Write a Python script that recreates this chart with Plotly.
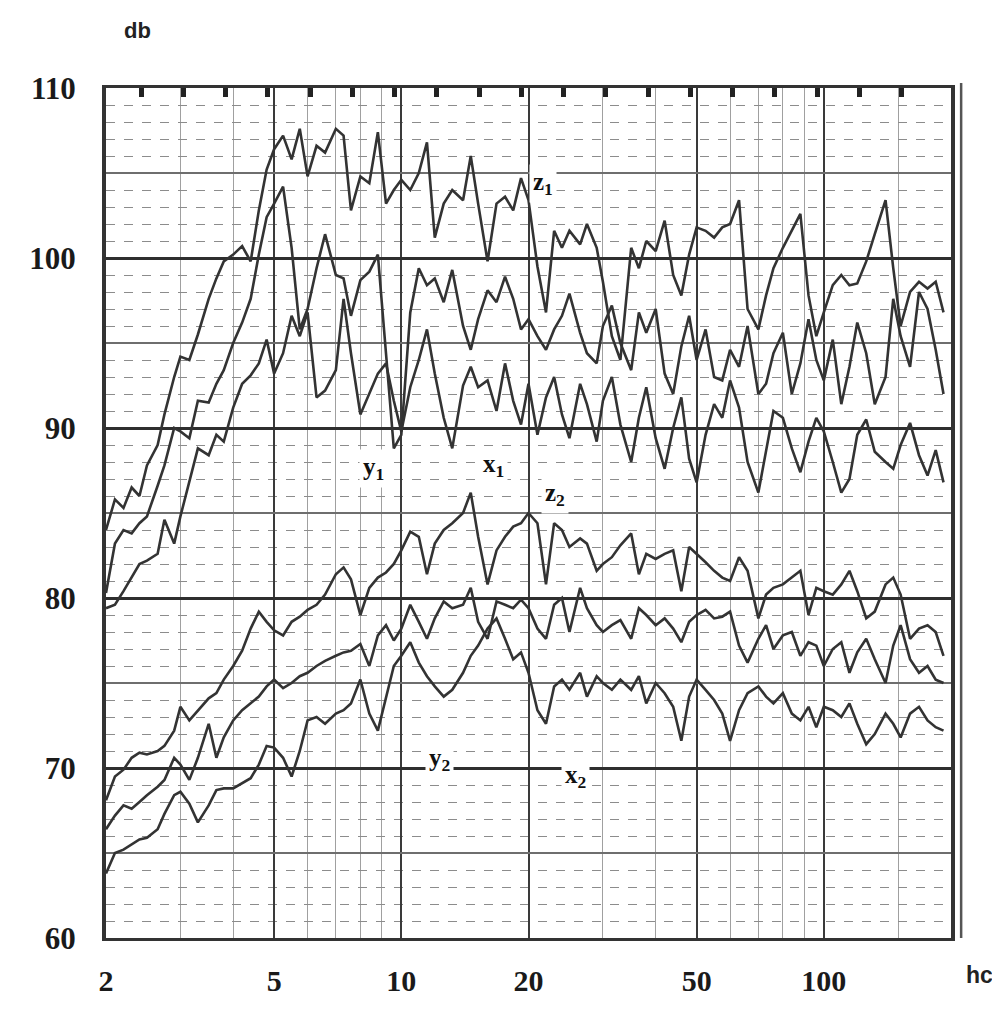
import math

import plotly.graph_objects as go

# frequency grid (hc), read positions along the log axis
FREQ = [
    2.0, 2.1, 2.2, 2.3, 2.4, 2.5, 2.65, 2.75, 2.9, 3.0,
    3.15, 3.3, 3.5, 3.65, 3.8, 4.0, 4.2, 4.4, 4.6, 4.8,
    5.0, 5.25, 5.5, 5.75, 6.0, 6.3, 6.6, 7.0, 7.3, 7.6,
    8.0, 8.4, 8.8, 9.2, 9.6, 10, 10.5, 11, 11.5, 12,
    12.6, 13.2, 14, 14.6, 15.2, 16, 16.8, 17.6, 18.4, 19.2,
    20, 21, 22, 23, 24, 25, 26.5, 27.5, 29, 30,
    31.5, 33, 35, 36.5, 38, 40, 42, 44, 46, 48,
    50, 52.5, 55, 57.5, 60, 63, 66, 70, 73, 76,
    80, 84, 88, 92, 96, 100, 105, 110, 115, 120,
    126, 132, 140, 146, 152, 160, 168, 176, 184, 192,
]

Z1 = [
    84.0, 85.8, 85.3, 86.5, 86.0, 87.8, 89.0, 90.8, 93.0, 94.2,
    94.0, 95.5, 97.6, 98.8, 99.8, 100.2, 100.7, 99.8, 102.8, 105.2,
    106.4, 107.2, 105.8, 107.6, 104.8, 106.6, 106.2, 107.6, 107.2, 102.8,
    104.8, 104.4, 107.4, 103.2, 104.0, 104.6, 104.0, 105.0, 106.8, 101.2,
    103.2, 104.0, 103.4, 106.0, 103.2, 99.8, 103.2, 103.6, 102.8, 104.7,
    103.4, 99.5, 96.8, 101.6, 100.6, 101.6, 100.8, 102.0, 100.6, 98.6,
    95.4, 94.0, 100.6, 99.4, 101.0, 100.4, 102.2, 99.0, 97.8, 100.2,
    101.8, 101.6, 101.2, 101.8, 102.0, 103.4, 97.0, 95.8, 97.8, 99.4,
    100.6, 101.6, 102.6, 97.8, 95.4, 96.8, 98.4, 99.0, 98.4, 98.5,
    99.8, 101.4, 103.4, 99.4, 96.0, 98.0, 98.6, 98.2, 98.6, 96.8,
]

Y1 = [
    80.3, 83.2, 84.0, 83.8, 84.4, 84.8, 86.6, 87.8, 90.0, 89.8,
    89.4, 91.6, 91.5, 92.6, 93.4, 95.0, 96.2, 97.6, 100.2, 102.4,
    103.2, 104.2, 100.6, 95.8, 97.0, 99.4, 101.4, 99.0, 98.8, 96.6,
    98.7, 99.2, 100.2, 94.6, 88.8, 89.6, 96.8, 99.4, 98.4, 98.8,
    97.4, 99.3, 96.0, 94.6, 96.4, 98.1, 97.4, 98.9, 97.6, 95.8,
    96.4, 95.4, 94.6, 95.8, 96.6, 97.9, 95.6, 94.4, 93.8, 96.0,
    97.2, 95.0, 93.4, 96.8, 95.6, 97.0, 93.2, 92.0, 94.8, 96.6,
    94.0, 95.8, 93.0, 92.8, 94.6, 93.6, 96.0, 92.0, 92.6, 94.4,
    95.6, 92.0, 93.8, 96.4, 94.0, 92.8, 95.2, 91.4, 93.6, 96.2,
    94.4, 91.4, 93.0, 97.6, 95.4, 93.6, 98.0, 97.0, 94.6, 92.0,
]

X1 = [
    79.4, 79.6, 80.4, 81.2, 82.0, 82.2, 82.6, 84.6, 83.2, 84.8,
    86.9, 88.8, 88.4, 89.6, 89.2, 91.2, 92.6, 93.1, 93.8, 95.2,
    93.2, 94.4, 96.6, 95.4, 96.8, 91.8, 92.2, 93.4, 97.6, 94.4,
    90.8, 92.0, 93.2, 93.8, 91.6, 89.8, 92.4, 94.0, 95.8, 93.2,
    90.6, 88.8, 92.5, 93.6, 92.4, 92.8, 91.0, 93.8, 91.6, 90.2,
    92.6, 89.6, 91.8, 93.0, 90.8, 89.4, 92.6, 91.4, 89.2, 91.6,
    93.0, 90.2, 88.0, 90.6, 92.4, 89.4, 87.6, 90.0, 91.8, 88.2,
    86.8, 89.6, 91.4, 90.6, 92.8, 91.2, 88.0, 86.2, 88.6, 91.0,
    90.6, 88.8, 87.4, 89.2, 90.6, 89.8, 88.0, 86.2, 87.0, 89.6,
    90.5, 88.6, 88.0, 87.6, 89.0, 90.3, 88.4, 87.2, 88.7, 86.8,
]

Z2 = [
    68.1, 69.5, 69.9, 70.6, 70.9, 70.8, 71.0, 71.3, 72.2, 73.6,
    72.8, 73.4, 74.1, 74.4, 75.2, 76.0, 76.9, 78.2, 79.2, 78.6,
    78.1, 77.8, 78.6, 78.9, 79.3, 79.6, 80.2, 81.4, 81.8, 81.1,
    79.0, 80.6, 81.2, 81.5, 82.0, 82.8, 83.9, 83.6, 81.4, 83.2,
    84.0, 84.4, 85.0, 86.2, 83.6, 80.8, 82.8, 83.6, 84.2, 84.4,
    85.0, 84.4, 80.8, 84.4, 84.0, 83.0, 83.5, 83.2, 81.6, 82.0,
    82.4, 83.1, 83.8, 81.4, 82.6, 82.3, 82.6, 82.8, 80.4, 83.0,
    82.6, 82.1, 81.6, 81.2, 81.0, 82.4, 81.6, 78.8, 80.2, 80.6,
    80.8, 81.2, 81.6, 79.0, 80.6, 80.4, 80.2, 80.8, 81.6, 80.4,
    78.8, 79.2, 80.8, 81.2, 80.2, 77.6, 78.2, 78.4, 78.0, 76.6,
]

Y2 = [
    66.4, 67.2, 67.8, 67.6, 68.0, 68.4, 68.9, 69.3, 70.6, 70.2,
    69.3, 70.6, 72.6, 70.6, 71.8, 72.8, 73.4, 73.8, 74.2, 74.8,
    75.2, 74.7, 75.0, 75.4, 75.6, 76.0, 76.3, 76.6, 76.8, 76.9,
    77.3, 76.0, 77.8, 78.4, 77.5, 78.2, 79.6, 78.6, 77.6, 78.8,
    79.8, 79.4, 79.6, 80.6, 78.6, 77.6, 79.8, 79.6, 79.4, 79.9,
    79.4, 78.2, 77.6, 79.6, 80.0, 78.0, 80.6, 79.4, 78.4, 78.0,
    78.4, 78.7, 77.6, 79.4, 79.0, 78.4, 78.8, 78.2, 77.4, 78.6,
    79.0, 79.3, 78.8, 78.9, 79.2, 77.2, 76.2, 77.6, 78.4, 77.0,
    77.8, 78.0, 76.6, 77.4, 77.2, 76.0, 77.0, 77.4, 75.6, 76.8,
    77.6, 76.4, 75.0, 77.2, 78.4, 76.4, 75.6, 76.0, 75.2, 75.0,
]

X2 = [
    63.8, 65.0, 65.2, 65.5, 65.8, 65.9, 66.4, 67.3, 68.4, 68.6,
    67.9, 66.8, 67.8, 68.7, 68.8, 68.8, 69.1, 69.4, 70.2, 71.3,
    71.2, 70.6, 69.5, 71.0, 72.8, 73.0, 72.6, 73.2, 73.4, 73.8,
    75.2, 73.2, 72.2, 74.2, 76.0, 76.6, 77.4, 76.2, 75.4, 74.8,
    74.2, 74.6, 75.6, 76.6, 77.2, 78.2, 78.8, 77.6, 76.4, 76.8,
    75.6, 73.4, 72.6, 74.8, 75.2, 74.6, 75.6, 74.2, 75.4, 75.0,
    74.6, 75.2, 74.6, 75.4, 73.8, 75.0, 74.4, 73.6, 71.6, 74.2,
    75.2, 74.6, 74.0, 73.2, 71.6, 73.4, 74.4, 74.8, 74.2, 73.8,
    74.4, 73.2, 72.8, 73.6, 72.4, 73.6, 73.4, 73.0, 73.8, 72.6,
    71.4, 72.0, 73.2, 72.6, 71.8, 73.2, 73.6, 72.8, 72.4, 72.2,
]

SERIES = {"z1": Z1, "y1": Y1, "x1": X1, "z2": Z2, "y2": Y2, "x2": X2}

# curve labels: (frequency, db)
LABELS = {
    "z<sub>1</sub>": (21.6, 104.4),
    "y<sub>1</sub>": (8.6, 87.6),
    "x<sub>1</sub>": (16.5, 87.8),
    "z<sub>2</sub>": (23.1, 86.1),
    "y<sub>2</sub>": (12.3, 70.5),
    "x<sub>2</sub>": (25.9, 69.5),
}

X_TICKS = [2, 5, 10, 20, 50, 100]
X_MINOR = [3, 4, 6, 7, 8, 9, 30, 40, 60, 70, 80, 90, 150]
Y_TICKS = [60, 70, 80, 90, 100, 110]

LINE = "#333333"
SERIF = "Liberation Serif, Times New Roman, serif"
SANS = "Liberation Sans, Arial, sans-serif"

fig = go.Figure()
for name, vals in SERIES.items():
    fig.add_trace(
        go.Scatter(
            x=FREQ,
            y=vals,
            mode="lines",
            name=name,
            line=dict(color=LINE, width=2.6),
            hoverinfo="skip",
        )
    )

# empty trace so the overlay axes (top markers, 5 db grid) get drawn
fig.add_trace(
    go.Scatter(x=[None], y=[None], xaxis="x2", yaxis="y2", showlegend=False, hoverinfo="skip")
)

for text, (fx, fy) in LABELS.items():
    fig.add_annotation(
        x=math.log10(fx),
        y=fy,
        text=f"<b>{text}</b>",
        showarrow=False,
        font=dict(family=SERIF, size=25, color="#111"),
        bgcolor="white",
        borderpad=3,
    )

# axis names, placed in paper fractions around the plot
fig.add_annotation(
    x=0.037, y=1.068, xref="paper", yref="paper", xanchor="center", yanchor="middle",
    text="<b>db</b>", showarrow=False,
    font=dict(family=SANS, size=22, color="#222"),
)
fig.add_annotation(
    x=1.034, y=-0.044, xref="paper", yref="paper", xanchor="center", yanchor="middle",
    text="<b>hc</b>", showarrow=False,
    font=dict(family=SANS, size=23, color="#222"),
)

# outer right rule of the chart paper
fig.add_shape(
    type="line", xref="paper", yref="paper", x0=1.012, x1=1.012, y0=0, y1=1.006,
    line=dict(color="#555", width=2.5),
)

fig.update_layout(
    width=1000,
    height=1017,
    autosize=False,
    margin=dict(l=98, r=57, t=80, b=87),
    paper_bgcolor="white",
    plot_bgcolor="white",
    showlegend=False,
    xaxis=dict(
        type="log",
        range=[0.30103, 2.30103],
        tickvals=X_TICKS,
        ticktext=[f"<b>{v}</b>" for v in X_TICKS],
        tickfont=dict(family=SERIF, size=30, color="#1a1a1a"),
        ticks="",
        ticklabelstandoff=14,
        showgrid=True,
        gridcolor="#3a3a3a",
        gridwidth=2,
        minor=dict(tickvals=X_MINOR, showgrid=True, gridcolor="#a0a0a0", gridwidth=1, ticks=""),
        showline=True,
        linecolor="#333",
        linewidth=3,
        mirror=True,
        zeroline=False,
    ),
    yaxis=dict(
        range=[60, 110],
        tickvals=Y_TICKS,
        ticktext=[f"<b>{v}</b>" for v in Y_TICKS],
        tickfont=dict(family=SERIF, size=31, color="#1a1a1a"),
        ticks="",
        ticklabelstandoff=20,
        showgrid=True,
        gridcolor="#2e2e2e",
        gridwidth=2.5,
        minor=dict(dtick=1, showgrid=True, gridcolor="#8c8c8c", gridwidth=1.3, griddash="dash", ticks=""),
        showline=True,
        linecolor="#333",
        linewidth=4,
        mirror=True,
        zeroline=False,
    ),
    xaxis2=dict(
        overlaying="x",
        side="top",
        range=[-0.83, 19.17],
        tickvals=list(range(19)),
        showticklabels=False,
        ticks="inside",
        ticklen=9,
        tickwidth=5,
        tickcolor="#222",
        showgrid=False,
        zeroline=False,
    ),
    yaxis2=dict(
        overlaying="y",
        side="right",
        range=[60, 110],
        tickvals=[65, 75, 85, 95, 105],
        showticklabels=False,
        ticks="",
        showgrid=True,
        gridcolor="#6e6e6e",
        gridwidth=1.5,
        zeroline=False,
    ),
)

fig.write_html("out.html")
